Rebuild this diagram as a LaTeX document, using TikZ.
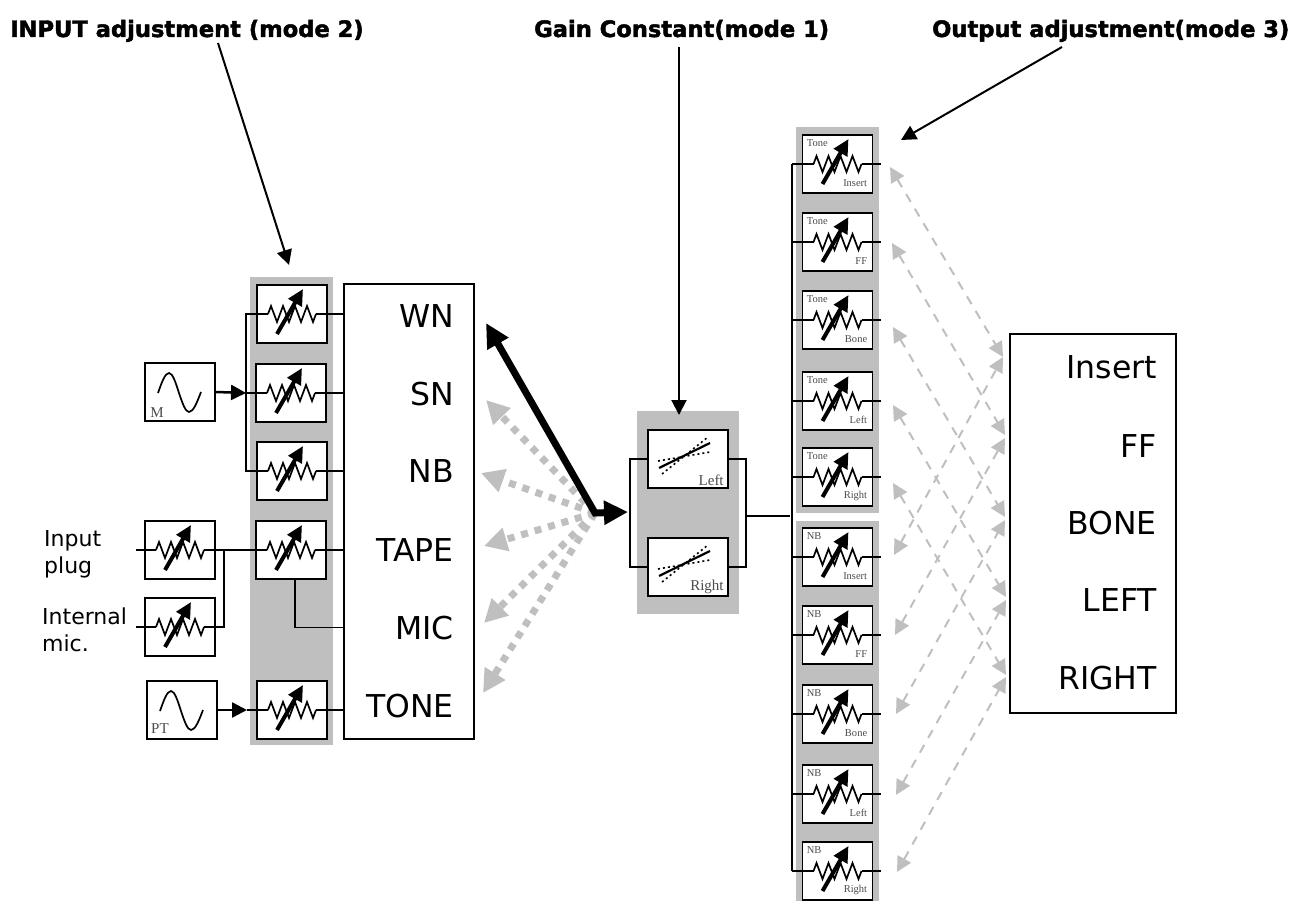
\documentclass[tikz,border=0pt]{standalone}
\usepackage{fontspec}
\usepackage{tikz}
\usetikzlibrary{positioning, calc, arrows.meta}
\setmainfont{DejaVu Sans}
\newfontfamily\tagfont{Liberation Serif}
\newfontfamily\titlefont[FakeBold=2]{DejaVu Sans Bold}
\definecolor{panelgray}{HTML}{BFBFBF}

\begin{document}
\begin{tikzpicture}[
        x=1pt, y=-1pt,
        panel/.style={fill=panelgray, draw=none},
        trimbox/.style={rectangle, draw=black, fill=white, line width=1.7pt, minimum width=70pt, minimum height=58pt, inner sep=0pt},
        gainbox/.style={trimbox, minimum width=80pt},
        listbox/.style={rectangle, draw=black, fill=white, line width=1.6pt, inner sep=0pt},
        wire/.style={line width=1.7pt, black},
        listlabel/.style={anchor=base east, inner sep=0pt, font=\fontsize{31.5}{31.5}\selectfont},
        sidelabel/.style={anchor=west, align=left, inner sep=0pt, font=\fontsize{22}{27}\selectfont},
        titlelabel/.style={anchor=base west, inner sep=0pt, font=\titlefont\fontsize{22.6}{22.6}\selectfont},
        tag/.style={inner sep=0pt, text=black!70, font=\tagfont\fontsize{10.5}{10.5}\selectfont},
        bigtag/.style={inner sep=0pt, text=black!70, font=\tagfont\fontsize{15}{15}\selectfont},
        feed/.style={-{Triangle[length=15pt,width=15pt]}, line width=2.5pt, black},
        pointer/.style={-{Triangle[length=15pt,width=15pt]}, line width=2pt, black},
        bigarrow/.style={{Triangle[length=24pt,width=23pt]}-{Triangle[length=24pt,width=23pt]}, line width=7pt, black},
        dotarrow/.style={-{Triangle[length=23pt,width=23pt]}, line width=7pt, panelgray, dash pattern=on 7pt off 7pt},
        linkarrow/.style={{Triangle[length=15pt,width=15pt]}-{Triangle[length=15pt,width=15pt]}, line width=2pt, panelgray, dash pattern=on 9pt off 8pt},
        varres/.pic={
            \node[trimbox] (-box) at (0,0) {};
            \coordinate (-in) at (-24,0);
            \coordinate (-out) at (24,0);
            \draw[line width=1.7pt, line join=miter] (-in) -- (-21,-8) -- (-15,8) -- (-9,-8) -- (-3,8) -- (3,-8) -- (9,8) -- (15,-8) -- (21,8) -- (-out);
            \draw[-{Triangle[length=16pt,width=15pt]}, line width=4pt] (-15,20) -- (11,-25);
        },
        sinewave/.pic={
            \node[trimbox] (-box) at (0,0) {};
            \draw[line width=1.7pt] (-22,1) sin (-11,-19) cos (-1,1) sin (9,20) cos (21,0);
        },
        slopes/.pic={
            \node[gainbox] (-box) at (0,0) {};
            \draw[line width=2.2pt] (-29,9) -- (22,-16);
            \draw[line width=1.6pt, dash pattern=on 2pt off 3pt] (-30,2) -- (22,-7);
            \draw[line width=1.6pt, dash pattern=on 2pt off 3pt] (-26,15) -- (20,-22);
        }
    ]
        \useasboundingbox (0,0) rectangle (1293,901);

        % Titles
        \node[titlelabel] (titleinput) at (10,37) {INPUT adjustment (mode 2)};
        \node[titlelabel] (titlegain) at (534,37) {Gain Constant(mode 1)};
        \node[titlelabel] (titleoutput) at (932,37) {Output adjustment(mode 3)};

        % Gray panels
        \fill[panel] (250,277) rectangle (333,745);
        \fill[panel] (637,411) rectangle (739,614);
        \fill[panel] (796,127) rectangle (879,513);
        \fill[panel] (796,521) rectangle (879,901);

        % Input side
        \node[listbox, minimum width=130pt, minimum height=455pt] (inlist) at (409,511.5) {};
        \foreach \name/\base in {WN/327, SN/405, NB/482, TAPE/561, MIC/639, TONE/717}
            \node[listlabel] (in\name) at (454,\base) {\name};

        \pic (in1) at (292,314) {varres};
        \pic (in2) at (291,393) {varres};
        \pic (in3) at (292,471) {varres};
        \pic (in4) at (291,550) {varres};
        \pic (in5) at (292,710) {varres};
        \pic (plug) at (180,550) {varres};
        \pic (mic) at (180,627) {varres};
        \pic (msine) at (180,392) {sinewave};
        \pic (ptsine) at (182,710) {sinewave};
        \node[bigtag] (mtag) at (157,413) {M};
        \node[bigtag] (pttag) at (160,729) {PT};
        \node[sidelabel] (plugtext) at (44,554) {Input\\plug};
        \node[sidelabel] (mictext) at (42,630) {Internal\\mic.};

        \coordinate (inbus) at (246,393);
        \coordinate (plugend) at (136,550);
        \coordinate (micjoin) at (224,550);
        \coordinate (micend) at (136,627);

        \foreach \i in {1,...,5}
            \draw[wire] (in\i-out) -- (in\i-out -| inlist.west);
        \draw[wire] (in1-in) -| (inbus) |- (in3-in);
        \draw[wire] (inbus) -- (in2-in);
        \draw[feed] (msine-box.east) -- (inbus);
        \draw[wire] (plugend) -- (plug-in);
        \draw[wire] (plug-out) -- (in4-in);
        \draw[wire] (micend |- mic-in) -- (mic-in);
        \draw[wire] (mic-out) -| (micjoin);
        \draw[wire] ([xshift=4pt]in4-box.south) |- (inMIC.west -| inlist.west);
        \coordinate (ptjoin) at (247,710);
        \draw[feed] (ptsine-box.east) -- (ptjoin);
        \draw[wire] (ptjoin) -- (in5-in);

        % Gain section
        \pic (gleft) at (688,459) {slopes};
        \pic (gright) at (688,567) {slopes};
        \node[bigtag, anchor=south east] (lefttag) at ([xshift=-5pt,yshift=3pt]gleft-box.south east) {Left};
        \node[bigtag, anchor=south east] (righttag) at ([xshift=-5pt,yshift=3pt]gright-box.south east) {Right};
        \coordinate (gainl) at (630,516);
        \coordinate (gainr) at (746,516);
        \coordinate (gainout) at (790,516);
        \coordinate (gainin) at (628,512);
        \draw[wire] (gleft-box.west) -| (gainl) |- (gright-box.west);
        \draw[wire] (gleft-box.east) -| (gainr) |- (gright-box.east);
        \draw[wire] (gainr) -- (gainout);

        % Arrows from the mode titles
        \coordinate (inputfrom) at (218,43);
        \coordinate (inputto) at (289,265);
        \coordinate (gainfrom) at (679,47);
        \coordinate (gainto) at (679,415);
        \coordinate (outputfrom) at (1062,47);
        \coordinate (outputto) at (901,140);
        \draw[pointer] (inputfrom) -- (inputto);
        \draw[pointer] (gainfrom) -- (gainto);
        \draw[pointer] (outputfrom) -- (outputto);

        % Source arrows
        \coordinate (hub) at (595,513);
        \foreach \name/\xpos/\ypos in {SN/486/400, NB/481/473, TAPE/484/546, MIC/484/623, TONE/483/693} {
            \coordinate (tip\name) at (\xpos,\ypos);
            \draw[dotarrow] (hub) -- (tip\name);
        }
        \coordinate (tipWN) at (486,323);
        \draw[bigarrow] (tipWN) -- (hub) -- (gainin);

        % Output side
        \coordinate (oendmark) at (881,0);
        \coordinate (obus) at (792,516);
        \foreach \i/\ypos/\toptag/\bottag in {1/164/Tone/Insert, 2/242/Tone/FF, 3/320/Tone/Bone, 4/401/Tone/Left, 5/477/Tone/Right, 6/557/NB/Insert, 7/635/NB/FF, 8/714/NB/Bone, 9/794/NB/Left, 10/871/NB/Right} {
            \pic (o\i) at (837.5,\ypos) {varres};
            \node[tag, anchor=west] (o\i top) at ([xshift=5pt,yshift=-9pt]o\i-box.north west) {\toptag};
            \node[tag, anchor=east] (o\i bot) at ([xshift=-6pt,yshift=11pt]o\i-box.south east) {\bottag};
            \draw[wire] (o\i-out) -- (o\i-out -| oendmark);
            \draw[wire] (o\i-in) -- (o\i-in -| obus);
        }
        \draw[wire] (o1-in -| obus) -- (o10-in -| obus);

        \node[listbox, minimum width=166pt, minimum height=379pt] (outlist) at (1093,523.5) {};
        \foreach \name/\base in {Insert/378, FF/457, BONE/534, LEFT/611, RIGHT/689}
            \node[listlabel] (out\name) at (1157,\base) {\name};

        % Links between the output trims and the outputs
        \foreach \i/\fx/\fy/\tx/\ty in {1/890/167/1003/357, 2/892/243/1005/435, 3/893/327/1005/517, 4/893/405/1006/597, 5/893/483/1006/675, 6/894/555/1003/357, 7/895/635/1005/438, 8/896/714/1005/520, 9/896/795/1006/600, 10/897/872/1006/677} {
            \coordinate (lf\i) at (\fx,\fy);
            \coordinate (lt\i) at (\tx,\ty);
            \draw[linkarrow] (lf\i) -- (lt\i);
        }
    \end{tikzpicture}
\end{document}
